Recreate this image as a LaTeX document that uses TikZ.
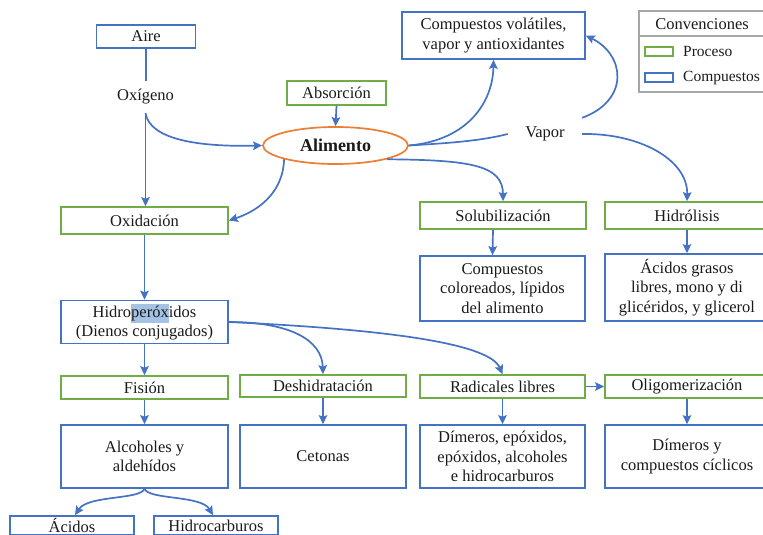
\documentclass[tikz,border=0pt]{standalone}
\usepackage{fontspec}
\setmainfont{Liberation Serif}
\usetikzlibrary{arrows.meta,shapes.geometric}
\definecolor{cblue}{HTML}{4472C4}
\definecolor{cgreen}{HTML}{70AD47}
\definecolor{corange}{HTML}{ED7D31}
\definecolor{cgray}{HTML}{A6A6A6}
\definecolor{chl}{HTML}{A4C2E4}
\definecolor{ctext}{HTML}{1A1A1A}
\newcommand{\hlsel}[1]{{\setlength{\fboxsep}{0pt}\colorbox{chl}{\strut #1}}}
\begin{document}
\begin{tikzpicture}[x=1pt,y=-1pt,
  txt/.style={font=\fontsize{16.5}{19.5}\selectfont, text=ctext, align=center, inner sep=0pt},
  boxbase/.style={txt, draw, line width=1.6pt},
  proc/.style={boxbase, draw=cgreen},
  comp/.style={boxbase, draw=cblue},
  conn/.style={draw=cblue, line width=1.7pt},
  arr/.style={conn, -{Stealth[length=9pt,width=8.5pt,inset=1.5pt]}},
]
\useasboundingbox (0,0) rectangle (763,535);
\clip (0,0) rectangle (763,535);

% nodes
\node[comp, minimum width=99, minimum height=23] (aire) at (146,36.5) {Aire};
\node[txt, minimum width=64, minimum height=32] (oxig) at (145.5,97) {Oxígeno};
\node[proc, minimum width=99, minimum height=24] (absor) at (336.5,93) {Absorción};
\node[ellipse, draw=corange, line width=1.7pt, inner sep=0pt, minimum width=145, minimum height=37,
      font=\fontsize{18}{21}\selectfont\bfseries, text=ctext] (alim) at (335.5,145.5) {Alimento};
\node[proc, minimum width=167, minimum height=27] (oxid) at (144.5,220.5) {Oxidación};
\node[comp, minimum width=183, minimum height=47] (vol) at (493.5,35.5) {Compuestos volátiles,\\vapor y antioxidantes};
\node[txt, minimum width=74, minimum height=32] (vap) at (545,134) {Vapor};
\node[proc, minimum width=166, minimum height=27] (solub) at (503,215.5) {Solubilización};
\node[proc, minimum width=164, minimum height=27] (hidr) at (687,215.5) {Hidrólisis};
\node[comp, minimum width=165, minimum height=65] (colo) at (502.5,288.5) {Compuestos\\coloreados, lípidos\\del alimento};
\node[comp, minimum width=164, minimum height=67] (acgr) at (687,287.5) {Ácidos grasos\\libres, mono y di\\glicéridos, y glicerol};
\node[comp, minimum width=167, minimum height=43] (hidro) at (144.5,322) {Hidro\hlsel{peróx}idos\\(Dienos conjugados)};
\node[proc, minimum width=167, minimum height=23] (fis) at (144.5,387.5) {Fisión};
\node[proc, minimum width=166, minimum height=22] (desh) at (323,386) {Deshidratación};
\node[proc, minimum width=165, minimum height=23] (radic) at (502.5,386.5) {Radicales libres};
\node[proc, minimum width=164, minimum height=23] (olig) at (687,386.5) {Oligomerización};
\node[comp, minimum width=167, minimum height=63] (alc) at (144.5,456.5) {Alcoholes y\\aldehídos};
\node[comp, minimum width=166, minimum height=63] (ceto) at (323,456.5) {Cetonas};
\node[comp, minimum width=165, minimum height=63] (dime) at (502.5,456.5) {Dímeros, epóxidos,\\epóxidos, alcoholes\\e hidrocarburos};
\node[comp, minimum width=164, minimum height=63] (dimc) at (687,456.5) {Dímeros y\\compuestos cíclicos};
\node[comp, minimum width=124, minimum height=19] (acid) at (72,525.5) {Ácidos};
\node[comp, minimum width=124, minimum height=19] (hcarb) at (216,525.5) {Hidrocarburos};

% legend
\draw[cgray, line width=1.2pt] (639,11) rectangle (780,92);
\draw[cgray, line width=1.2pt] (639,36) -- (780,36);
\node[txt] (legt) at (702,24) {Convenciones};
\node[draw=cgreen, line width=1.5pt, minimum width=28, minimum height=9, inner sep=0pt] (legp) at (659,51.5) {};
\node[draw=cblue, line width=1.5pt, minimum width=28, minimum height=9, inner sep=0pt] (legc) at (659,77.5) {};
\node[txt, anchor=west, font=\fontsize{15.5}{18}\selectfont] (legpt) at (683,52) {Proceso};
\node[txt, anchor=west, font=\fontsize{15.5}{18}\selectfont] (legct) at (683,78) {Compuestos};

% connectors
\draw[conn] (aire.south) -- (aire.south |- oxig.north);
\draw[arr] (oxig.south) -- (oxig.south |- oxid.north);
\draw[arr] (oxig.south) .. controls (150,140) and (200,147) .. (alim.west);
\draw[arr] (absor.south) -- (alim.north);
\draw[arr] (alim.195) .. controls (283,195) and (255,212) .. (oxid.east);
\draw[arr] (alim.east) .. controls (470,140) and (493,100) .. (vol.south);
\draw[conn] (alim.east) .. controls (450,143) and (480,141) .. (vap.west);
\draw[arr] (vap.north east) .. controls (630,100) and (625,55) .. (vol.east);
\draw[arr] (vap.east) .. controls (640,133) and (688,160) .. (hidr.north);
\draw[arr] (alim.-15) .. controls (470,160) and (503,165) .. (solub.north);
\draw[arr] ([xshift=-10pt]solub.south) -- ([xshift=-10pt]colo.north);
\draw[arr] (hidr.south) -- (acgr.north);
\draw[arr] (oxid.south) -- (hidro.north);
\draw[arr] (hidro.south) -- (fis.north);
\draw[arr] (hidro.east) .. controls (290,322) and (322,340) .. (desh.north);
\draw[arr] (hidro.east) .. controls (400,330) and (490,345) .. (radic.north);
\draw[arr] (radic.east) -- (olig.west);
\draw[arr] (fis.south) -- (alc.north);
\draw[arr] (desh.south) -- (ceto.north);
\draw[arr] (radic.south) -- (dime.north);
\draw[arr] (olig.south) -- (dimc.north);
\draw[arr] (alc.south) .. controls (140,500) and (88,495) .. ([xshift=3pt]acid.north);
\draw[arr] (alc.south) .. controls (149,500) and (201,495) .. ([xshift=-3pt]hcarb.north);
\end{tikzpicture}
\end{document}
